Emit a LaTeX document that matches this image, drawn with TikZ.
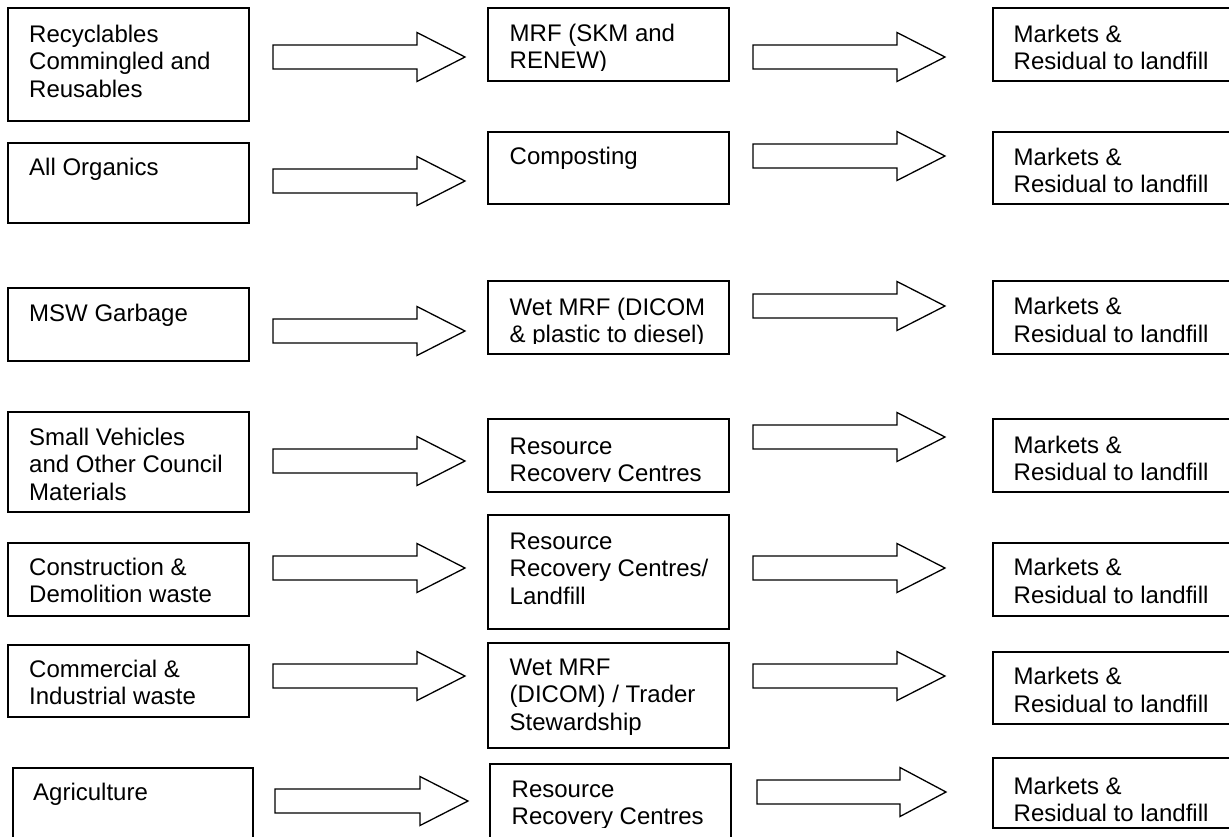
\documentclass[tikz,border=0pt]{standalone}
\usepackage{fontspec}
\setmainfont{Liberation Sans}
\newcommand\mybox[5]{\node[box, minimum width={#4-#2}, minimum height={#5-#3}] (#1) at (#2,#3) {};}
\newcommand\myarrow[5]{%
  \draw[barrow] (#2,#5-12) -- (#3,#5-12) -- (#3,#5-24.5) -- (#4,#5) -- (#3,#5+24.5) -- (#3,#5+12) -- (#2,#5+12) -- cycle;
  \coordinate (#1) at (#4,#5);}
\begin{document}
\begin{tikzpicture}[x=1pt,y=-1pt,
  box/.style={draw, line width=1.5pt, inner sep=0pt, outer sep=0pt, anchor=north west},
  lbl/.style={anchor=base west, align=left, inner sep=0pt, font=\fontsize{24}{27.5}\selectfont},
  barrow/.style={draw, line width=1.3pt, fill=white, line join=miter}]
\useasboundingbox (0,0) rectangle (1229,836);
\fill[white] (0,0) rectangle (1229,836);
\clip (0,0) rectangle (1229,836);
% left column
\mybox{l1}{8}{8}{249}{121}
\mybox{l2}{8}{143}{249}{223}
\mybox{l3}{8}{288}{249}{361}
\mybox{l4}{8}{412}{249}{512}
\mybox{l5}{8}{543}{249}{616}
\mybox{l6}{8}{645}{249}{717}
\mybox{l7}{13}{768}{253}{860}
% labels: anchor is the baseline of the last line
\node[lbl] (lt1) at (29,97) {Recyclables\\Commingled and\\Reusables};
\node[lbl] (lt2) at (29,175) {All Organics};
\node[lbl] (lt3) at (29,321) {MSW Garbage};
\node[lbl] (lt4) at (29,500) {Small Vehicles\\and Other Council\\Materials};
\node[lbl] (lt5) at (29,602.5) {Construction \&\\Demolition waste};
\node[lbl] (lt6) at (29,704.5) {Commercial \&\\Industrial waste};
\node[lbl] (lt7) at (33,800) {Agriculture};
% left arrows
\myarrow{a1}{273}{417}{465}{57}
\myarrow{a2}{273}{417}{465}{181}
\myarrow{a3}{273}{417}{465}{331}
\myarrow{a4}{273}{417}{465}{461}
\myarrow{a5}{273}{417}{465}{568}
\myarrow{a6}{273}{417}{465}{676}
\myarrow{a7}{275}{420}{468}{801}
% middle column
\mybox{m1}{488}{8}{729}{81}
\mybox{m2}{488}{132}{729}{204}
\mybox{m3}{488}{281}{729}{354}
\mybox{m4}{488}{419}{729}{492}
\mybox{m5}{488}{515}{729}{629}
\mybox{m6}{488}{643}{729}{748}
\mybox{m7}{490}{764}{731}{860}
\begin{scope}\clip (488,8) rectangle (729,70);
\node[lbl] (mt1) at (509.5,68.5) {MRF (SKM and\\RENEW)};\end{scope}
\begin{scope}\clip (488,132) rectangle (729,193);
\node[lbl] (mt2) at (509.5,164) {Composting};\end{scope}
\begin{scope}\clip (488,281) rectangle (729,343.5);
\node[lbl] (mt3) at (509.5,342.5) {Wet MRF (DICOM\\\& plastic to diesel)};\end{scope}
\begin{scope}\clip (488,419) rectangle (729,481);
\node[lbl] (mt4) at (509.5,481.5) {Resource\\Recovery Centres};\end{scope}
\begin{scope}\clip (488,515) rectangle (729,618);
\node[lbl] (mt5) at (509.5,604) {Resource\\Recovery Centres/\\Landfill};\end{scope}
\begin{scope}\clip (488,643) rectangle (729,737);
\node[lbl] (mt6) at (509.5,730) {Wet MRF\\(DICOM) / Trader\\Stewardship};\end{scope}
\begin{scope}\clip (490,764) rectangle (731,827);
\node[lbl] (mt7) at (511.5,824.5) {Resource\\Recovery Centres};\end{scope}
% middle arrows
\myarrow{b1}{753}{897}{945}{57}
\myarrow{b2}{753}{897}{945}{156}
\myarrow{b3}{753}{897}{945}{306}
\myarrow{b4}{753}{897}{945}{437}
\myarrow{b5}{753}{897}{945}{568}
\myarrow{b6}{753}{897}{945}{676}
\myarrow{b7}{757}{900}{946}{792}
% right column
\mybox{r1}{993}{8}{1245}{81}
\mybox{r2}{993}{132}{1245}{204}
\mybox{r3}{993}{281}{1245}{354}
\mybox{r4}{993}{419}{1245}{492}
\mybox{r5}{993}{543}{1245}{616}
\mybox{r6}{993}{652}{1245}{724}
\mybox{r7}{993}{758}{1245}{828}
\node[lbl] (rt1) at (1013.5,69.5) {Markets \&\\Residual to landfill};
\node[lbl] (rt2) at (1013.5,192.5) {Markets \&\\Residual to landfill};
\node[lbl] (rt3) at (1013.5,342) {Markets \&\\Residual to landfill};
\node[lbl] (rt4) at (1013.5,480.5) {Markets \&\\Residual to landfill};
\node[lbl] (rt5) at (1013.5,603) {Markets \&\\Residual to landfill};
\node[lbl] (rt6) at (1013.5,712) {Markets \&\\Residual to landfill};
\node[lbl] (rt7) at (1013.5,821.5) {Markets \&\\Residual to landfill};
\end{tikzpicture}
\end{document}
